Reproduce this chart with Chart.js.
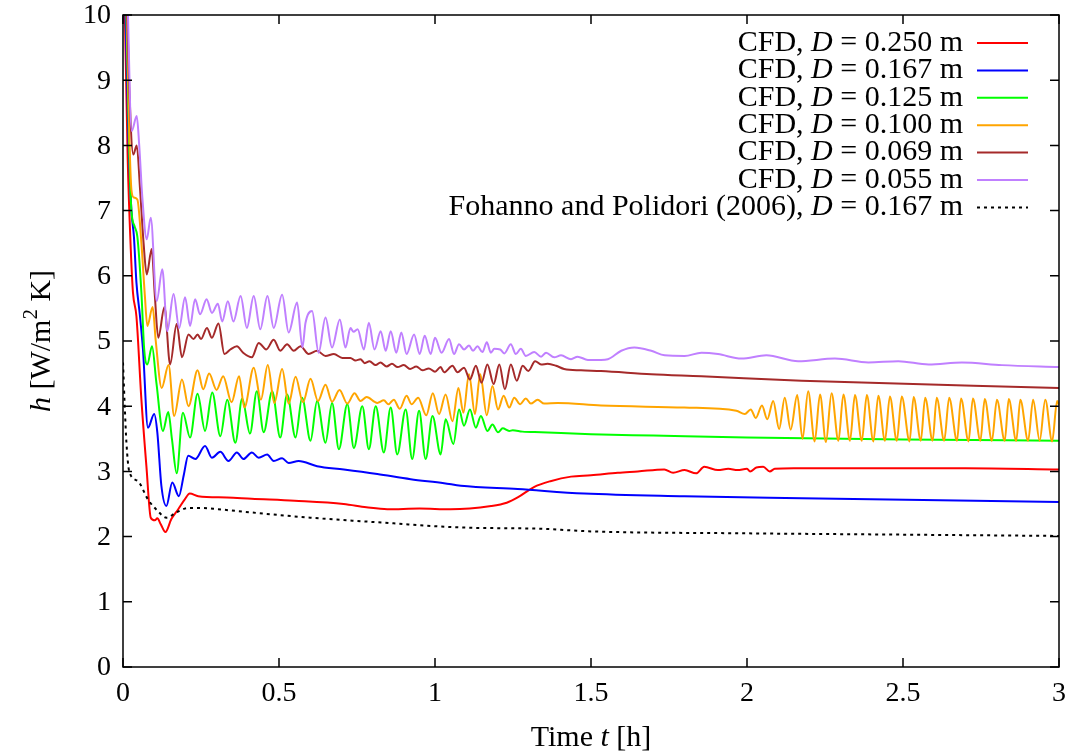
<!DOCTYPE html>
<html><head><meta charset="utf-8">
<script src="https://cdn.jsdelivr.net/npm/chart.js@4/dist/chart.umd.min.js"></script>
<style>html,body{margin:0;padding:0;background:#fff}#wrap{width:1070px;height:754px;position:relative}</style>
</head><body><div id="wrap"><canvas id="c"></canvas></div>
<script>
// ---- data (time t [h], h [W/m^2 K]) ----
const xTicks = [0, 0.5, 1, 1.5, 2, 2.5, 3];
const yTicks = [0, 1, 2, 3, 4, 5, 6, 7, 8, 9, 10];
const xTickLabels = ["0", "0.5", "1", "1.5", "2", "2.5", "3"];
const yTickLabels = ["0", "1", "2", "3", "4", "5", "6", "7", "8", "9", "10"];
const legendLabels = [
  "CFD, D = 0.250 m", "CFD, D = 0.167 m", "CFD, D = 0.125 m", "CFD, D = 0.100 m",
  "CFD, D = 0.069 m", "CFD, D = 0.055 m", "Fohanno and Polidori (2006), D = 0.167 m"
];
const cfd250 = [[0,12.5],[0.006,10],[0.015,7.8],[0.025,6.4],[0.032,5.74],[0.043,5.38],[0.059,4.1],[0.075,3.08],[0.089,2.29],[0.102,2.25],[0.110,2.28],[0.121,2.19],[0.136,2.07],[0.155,2.27],[0.177,2.42],[0.198,2.57],[0.214,2.66],[0.241,2.62],[0.333,2.6],[0.412,2.58],[0.55,2.55],[0.707,2.5],[0.78,2.45],[0.847,2.42],[0.95,2.43],[1.05,2.42],[1.18,2.47],[1.23,2.52],[1.265,2.6],[1.317,2.76],[1.37,2.85],[1.436,2.92],[1.5,2.94],[1.586,2.98],[1.65,3.0],[1.735,3.03],[1.763,2.98],[1.8,3.02],[1.837,2.97],[1.863,3.07],[1.907,3.02],[1.94,3.04],[1.97,3.02],[2.0,3.04],[2.01,3.0],[2.03,3.06],[2.052,3.07],[2.073,3.0],[2.089,3.04],[2.15,3.05],[2.4,3.05],[2.7,3.05],[3.0,3.03]];
const cfd167 = [[0,12.5],[0.008,10],[0.018,8.0],[0.027,7.0],[0.035,6.6],[0.043,5.9],[0.054,5.4],[0.064,4.87],[0.08,3.67],[0.1,3.88],[0.11,3.6],[0.123,2.78],[0.139,2.47],[0.158,2.83],[0.179,2.62],[0.195,2.95],[0.209,3.24],[0.232,3.19],[0.263,3.39],[0.285,3.21],[0.312,3.3],[0.338,3.16],[0.365,3.29],[0.386,3.19],[0.413,3.29],[0.435,3.21],[0.462,3.26],[0.483,3.16],[0.51,3.2],[0.531,3.13],[0.563,3.16],[0.622,3.08],[0.708,3.03],[0.815,2.96],[0.922,2.88],[1.029,2.82],[1.083,2.78],[1.265,2.73],[1.478,2.66],[1.799,2.62],[2.175,2.59],[3.0,2.53]];
const cfd125 = [[0,13],[0.01,10.2],[0.02,7.9],[0.027,7.0],[0.037,6.76],[0.046,6.6],[0.059,5.74],[0.068,4.87],[0.078,4.64],[0.093,4.92],[0.107,4.36],[0.128,3.62],[0.145,3.91],[0.157,3.49],[0.172,2.97],[0.192,3.9],[0.215,3.52],[0.239,4.19],[0.263,3.62],[0.286,4.21],[0.312,3.54],[0.334,4.1],[0.36,3.44],[0.382,4.12],[0.407,3.58],[0.429,4.23],[0.451,3.6],[0.478,4.23],[0.504,3.52],[0.526,4.18],[0.553,3.52],[0.574,4.13],[0.601,3.47],[0.622,4.08],[0.649,3.44],[0.670,4.05],[0.692,3.34],[0.719,4.03],[0.740,3.36],[0.767,4.0],[0.788,3.34],[0.810,4.0],[0.836,3.29],[0.858,3.98],[0.879,3.26],[0.906,3.95],[0.927,3.19],[0.949,3.93],[0.970,3.19],[0.992,3.85],[1.018,3.26],[1.034,3.8],[1.059,3.42],[1.077,3.95],[1.093,3.70],[1.112,3.95],[1.131,3.67],[1.147,3.85],[1.168,3.62],[1.184,3.72],[1.202,3.6],[1.217,3.66],[1.238,3.62],[1.249,3.63],[1.28,3.61],[1.34,3.6],[1.5,3.57],[1.7,3.55],[2.0,3.52],[2.5,3.49],[3.0,3.47]];
const cfd100 = [[0,13.5],[0.01,10.5],[0.02,8.2],[0.027,7.32],[0.035,7.2],[0.046,7.17],[0.059,6.5],[0.07,5.7],[0.078,5.23],[0.095,5.52],[0.105,5.0],[0.124,4.28],[0.146,4.63],[0.164,3.85],[0.189,4.41],[0.210,4.0],[0.239,4.55],[0.257,4.26],[0.276,4.5],[0.300,4.25],[0.321,4.46],[0.348,4.06],[0.372,4.46],[0.389,3.98],[0.419,4.59],[0.442,4.1],[0.464,4.63],[0.485,4.05],[0.510,4.57],[0.531,4.04],[0.553,4.45],[0.577,4.06],[0.601,4.42],[0.625,4.08],[0.649,4.33],[0.670,4.07],[0.694,4.25],[0.719,4.04],[0.742,4.2],[0.761,4.08],[0.781,4.14],[0.815,4.05],[0.836,4.09],[0.851,4.03],[0.868,4.1],[0.887,3.96],[0.909,4.16],[0.925,4.03],[0.946,4.13],[0.972,3.86],[0.993,4.2],[1.013,3.88],[1.034,4.18],[1.056,3.77],[1.075,4.28],[1.091,3.9],[1.109,4.49],[1.128,3.88],[1.145,4.49],[1.166,3.86],[1.184,4.31],[1.202,3.95],[1.220,4.16],[1.238,3.98],[1.254,4.13],[1.273,4.03],[1.291,4.12],[1.307,4.04],[1.329,4.1],[1.350,4.04],[1.393,4.05],[1.532,4.01],[1.799,3.98],[1.966,3.93],[1.993,3.88],[2.012,3.95],[2.028,3.82],[2.048,4.01],[2.065,3.80],[2.084,4.08],[2.103,3.65],[2.121,4.13],[2.140,3.64],[2.161,4.17],[2.178,3.50],[2.196,4.23],[2.217,3.46],[2.234,4.18],[2.253,3.45],[2.271,4.2],[2.293,3.47],[2.309,4.18],[2.330,3.47],[2.346,4.17],[2.368,3.47],[2.384,4.17],[2.405,3.46],[2.421,4.16],[2.442,3.47],[2.458,4.15],[2.480,3.47],[2.496,4.15],[2.521,3.46],[2.534,4.14],[2.557,3.47],[2.571,4.13],[2.595,3.47],[2.608,4.13],[2.632,3.47],[2.648,4.13],[2.673,3.47],[2.686,4.12],[2.710,3.46],[2.724,4.12],[2.748,3.47],[2.762,4.11],[2.785,3.47],[2.801,4.10],[2.826,3.47],[2.839,4.11],[2.863,3.47],[2.876,4.10],[2.901,3.47],[2.917,4.10],[2.938,3.47],[2.956,4.10],[2.978,3.46],[2.994,4.08],[3.0,4.02]];
const cfd069 = [[0,13],[0.01,10.6],[0.02,8.9],[0.033,7.86],[0.044,8.0],[0.055,7.3],[0.066,6.5],[0.076,6.02],[0.092,6.41],[0.102,5.7],[0.113,5.05],[0.133,5.52],[0.151,4.64],[0.172,5.26],[0.189,4.75],[0.210,5.1],[0.226,5.03],[0.239,5.1],[0.25,5.03],[0.269,5.2],[0.285,5.05],[0.306,5.27],[0.325,4.8],[0.344,4.87],[0.365,4.92],[0.385,4.82],[0.413,4.75],[0.435,4.97],[0.459,4.87],[0.483,5.02],[0.504,4.85],[0.526,4.95],[0.547,4.85],[0.569,4.92],[0.595,4.8],[0.622,4.85],[0.649,4.77],[0.676,4.8],[0.703,4.74],[0.729,4.74],[0.745,4.7],[0.761,4.72],[0.775,4.66],[0.79,4.69],[0.81,4.63],[0.825,4.67],[0.845,4.61],[0.862,4.65],[0.88,4.6],[0.9,4.63],[0.92,4.57],[0.94,4.61],[0.96,4.55],[0.98,4.58],[1.0,4.53],[1.018,4.6],[1.029,4.52],[1.056,4.62],[1.072,4.52],[1.093,4.59],[1.112,4.41],[1.131,4.62],[1.149,4.36],[1.168,4.64],[1.188,4.34],[1.206,4.64],[1.224,4.26],[1.243,4.64],[1.262,4.39],[1.281,4.62],[1.299,4.54],[1.321,4.69],[1.340,4.64],[1.361,4.65],[1.388,4.62],[1.414,4.57],[1.468,4.55],[1.532,4.54],[1.693,4.49],[1.854,4.46],[2.175,4.39],[3.0,4.28]];
const cfd055 = [[0,14],[0.01,11.5],[0.016,10.0],[0.028,8.22],[0.044,8.45],[0.052,8.0],[0.062,7.2],[0.076,6.56],[0.089,6.89],[0.108,5.61],[0.126,6.1],[0.142,5.15],[0.162,5.72],[0.180,5.2],[0.199,5.67],[0.215,5.23],[0.231,5.64],[0.247,5.41],[0.268,5.64],[0.285,5.43],[0.304,5.57],[0.318,5.3],[0.336,5.61],[0.354,5.3],[0.377,5.69],[0.397,5.2],[0.419,5.69],[0.440,5.18],[0.463,5.69],[0.483,5.2],[0.510,5.71],[0.531,5.13],[0.558,5.59],[0.575,4.9],[0.585,5.28],[0.606,5.46],[0.627,4.82],[0.649,5.36],[0.670,4.9],[0.695,5.33],[0.713,4.9],[0.729,5.2],[0.739,5.14],[0.752,5.18],[0.772,4.87],[0.788,5.28],[0.806,4.87],[0.826,5.15],[0.842,4.85],[0.858,5.15],[0.876,4.82],[0.892,5.13],[0.909,4.8],[0.933,5.1],[0.951,4.8],[0.967,5.08],[0.986,4.8],[1.0,5.05],[1.021,4.82],[1.045,5.03],[1.061,4.8],[1.077,4.95],[1.093,4.87],[1.109,4.93],[1.122,4.85],[1.136,4.92],[1.152,4.83],[1.166,4.98],[1.179,4.82],[1.190,4.88],[1.209,4.87],[1.222,4.81],[1.243,4.95],[1.259,4.8],[1.275,4.88],[1.291,4.77],[1.318,4.83],[1.340,4.76],[1.356,4.82],[1.382,4.75],[1.404,4.78],[1.436,4.72],[1.457,4.76],[1.490,4.71],[1.532,4.71],[1.554,4.72],[1.597,4.85],[1.639,4.9],[1.693,4.85],[1.736,4.78],[1.8,4.77],[1.854,4.82],[1.907,4.8],[1.982,4.73],[2.062,4.78],[2.164,4.69],[2.282,4.73],[2.389,4.67],[2.485,4.69],[2.582,4.64],[2.689,4.67],[2.817,4.63],[3.0,4.6]];
const fohanno167 = [[0,4.67],[0.003,4.3],[0.006,3.95],[0.011,3.44],[0.02,3.0],[0.048,2.85],[0.08,2.57],[0.112,2.39],[0.139,2.29],[0.171,2.37],[0.209,2.44],[0.252,2.44],[0.305,2.42],[0.412,2.37],[0.6,2.29],[0.815,2.22],[1.083,2.14],[1.34,2.12],[1.5,2.08],[2.0,2.05],[2.5,2.03],[3.0,2.01]];

const seriesList = [cfd250, cfd167, cfd125, cfd100, cfd069, cfd055, fohanno167];
const colors = ['#ff0000', '#0000ff', '#00ff00', '#ffa500', '#a52a2a', '#c080ff', '#000000'];
const FONT = '"Liberation Serif", "Times New Roman", serif';
const TICK_FS = 28;
const TEXT_FS = 30;

const datasets = seriesList.map((s, i) => ({
  label: legendLabels[i],
  data: s.map(([x, y]) => ({x, y})),
  borderColor: colors[i],
  backgroundColor: colors[i],
  borderWidth: 2,
  borderDash: i === 6 ? [3, 4] : [],
  pointRadius: 0,
  fill: false,
  cubicInterpolationMode: 'monotone',
  order: 6 - i
}));

function drawRich(ctx, parts, x, y, align, fs) {
  const fontFor = p => (p.italic ? 'italic ' : '') + (p.sup ? Math.round(fs * 0.7) : fs) + 'px ' + FONT;
  let total = 0;
  parts.forEach(p => { ctx.font = fontFor(p); total += ctx.measureText(p.t).width; });
  let cx = align === 'right' ? x - total : (align === 'center' ? x - total / 2 : x);
  parts.forEach(p => {
    ctx.font = fontFor(p);
    ctx.fillText(p.t, cx, p.sup ? y - fs * 0.35 : y);
    cx += ctx.measureText(p.t).width;
  });
}
function labelParts(s) {
  const i = s.indexOf(' D = ');
  return [{t: s.slice(0, i + 1)}, {t: 'D', italic: true}, {t: s.slice(i + 2)}];
}

const framePlugin = {
  id: 'frame',
  afterDatasetsDraw(chart) {
    const {ctx, chartArea: a, scales: {x, y}} = chart;
    ctx.save();
    ctx.strokeStyle = '#000';
    ctx.lineWidth = 1.5;
    ctx.setLineDash([]);
    ctx.beginPath();
    yTicks.forEach(v => {
      const p = y.getPixelForValue(v);
      ctx.moveTo(a.left, p); ctx.lineTo(a.left + 9, p);
      ctx.moveTo(a.right, p); ctx.lineTo(a.right - 9, p);
    });
    xTicks.forEach(v => {
      const p = x.getPixelForValue(v);
      ctx.moveTo(p, a.bottom); ctx.lineTo(p, a.bottom - 9);
      ctx.moveTo(p, a.top); ctx.lineTo(p, a.top + 9);
    });
    ctx.stroke();
    ctx.strokeRect(a.left, a.top, a.right - a.left, a.bottom - a.top);

    // tick labels
    ctx.fillStyle = '#000';
    ctx.font = TICK_FS + 'px ' + FONT;
    ctx.textBaseline = 'middle';
    ctx.textAlign = 'right';
    yTicks.forEach((v, i) => ctx.fillText(yTickLabels[i], a.left - 12, y.getPixelForValue(v) + 1));
    ctx.textAlign = 'center';
    xTicks.forEach((v, i) => ctx.fillText(xTickLabels[i], x.getPixelForValue(v), a.bottom + 27));
    ctx.textAlign = 'left';

    // legend
    legendLabels.forEach((lab, i) => {
      const yy = 43 + i * 27.4;
      ctx.fillStyle = '#000';
      drawRich(ctx, labelParts(lab), 963, yy, 'right', TEXT_FS);
      ctx.beginPath();
      ctx.strokeStyle = colors[i];
      ctx.lineWidth = 2;
      ctx.setLineDash(i === 6 ? [3, 4] : []);
      ctx.moveTo(977, yy); ctx.lineTo(1028, yy);
      ctx.stroke();
    });
    ctx.setLineDash([]);

    // axis titles
    ctx.fillStyle = '#000';
    drawRich(ctx, [{t: 'Time '}, {t: 't', italic: true}, {t: ' [h]'}], (a.left + a.right) / 2, 738, 'center', TEXT_FS);
    ctx.save();
    ctx.translate(42, (a.top + a.bottom) / 2);
    ctx.rotate(-Math.PI / 2);
    drawRich(ctx, [{t: 'h', italic: true}, {t: ' [W/m'}, {t: '2', sup: true}, {t: ' K]'}], 0, 0, 'center', TEXT_FS);
    ctx.restore();
    ctx.restore();
  }
};

new Chart(document.getElementById('c'), {
  type: 'line',
  data: {datasets},
  plugins: [framePlugin],
  options: {
    responsive: true,
    maintainAspectRatio: false,
    animation: false,
    layout: {padding: {left: 0, top: 15, right: 11, bottom: 0}},
    plugins: {legend: {display: false}, tooltip: {enabled: false}},
    scales: {
      x: {
        type: 'linear', min: 0, max: 3,
        afterFit: s => { s.height = 87; },
        grid: {display: false, drawTicks: false},
        border: {display: false},
        ticks: {display: false}
      },
      y: {
        type: 'linear', min: 0, max: 10,
        afterFit: s => { s.width = 123; },
        grid: {display: false, drawTicks: false},
        border: {display: false},
        ticks: {display: false}
      }
    }
  }
});
</script>
</body></html>
